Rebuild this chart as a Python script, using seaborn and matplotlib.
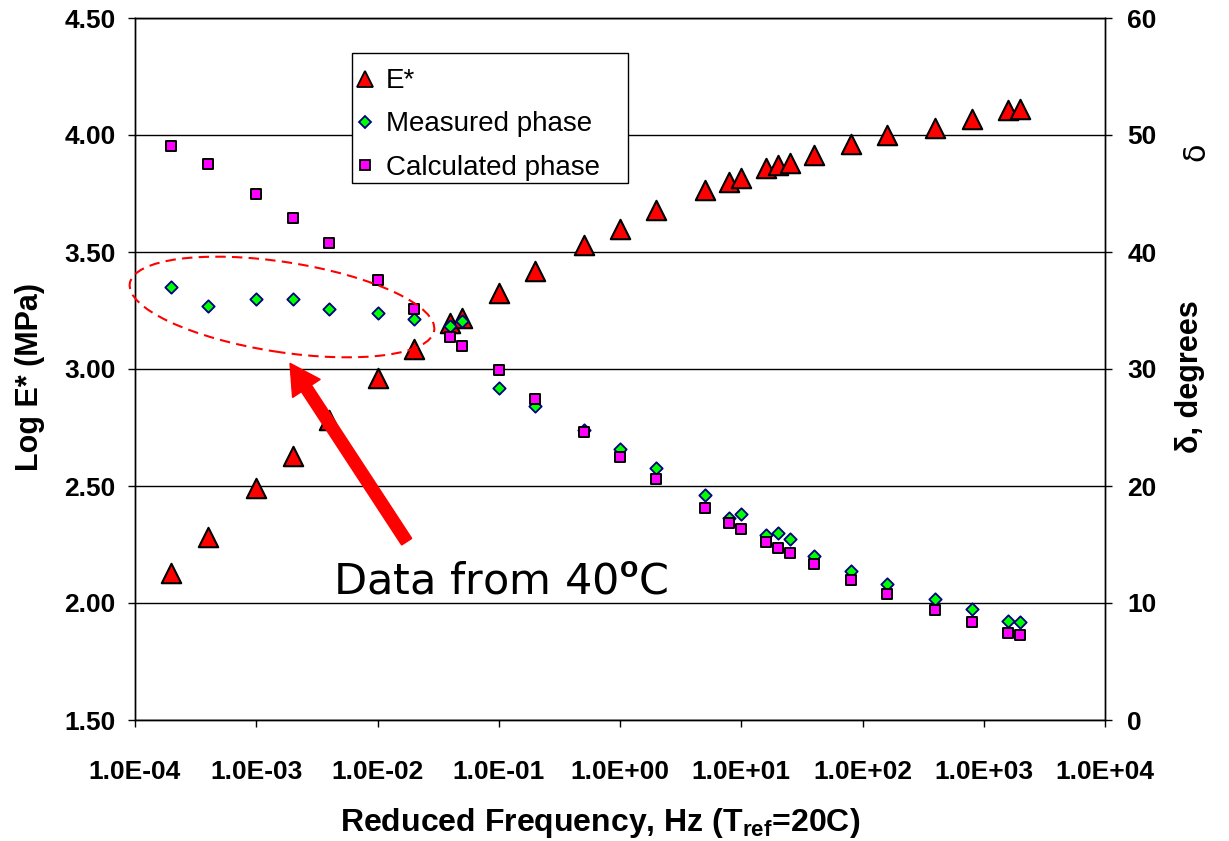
import numpy as np
import pandas as pd
import matplotlib
matplotlib.use("Agg")
import matplotlib.pyplot as plt
import seaborn as sns
from matplotlib.lines import Line2D
from matplotlib.patches import Ellipse, FancyArrow, Rectangle
from matplotlib.ticker import FixedLocator, FuncFormatter, NullLocator

sns.set_style("ticks")
plt.rcParams["font.family"] = ["Liberation Sans", "DejaVu Sans"]
plt.rcParams["font.weight"] = "bold"
plt.rcParams["axes.labelweight"] = "bold"
plt.rcParams["text.color"] = "black"
plt.rcParams["axes.labelcolor"] = "black"
plt.rcParams["xtick.color"] = "black"
plt.rcParams["ytick.color"] = "black"
plt.rcParams["mathtext.fontset"] = "custom"
plt.rcParams["mathtext.rm"] = "Liberation Sans"
plt.rcParams["mathtext.bf"] = "Liberation Sans:bold"

# Reduced frequency (Hz) at Tref = 20C
freq = [2e-4, 4e-4, 1e-3, 2e-3, 4e-3, 1e-2, 2e-2, 4e-2, 5e-2, 0.1, 0.2, 0.5,
        1, 2, 5, 8, 10, 16, 20, 25, 40, 80, 160, 400, 800, 1600, 2000]
# log dynamic modulus, MPa
log_e = [2.13, 2.28, 2.49, 2.63, 2.78, 2.96, 3.085, 3.197, 3.22, 3.325, 3.42, 3.53,
         3.60, 3.68, 3.765, 3.80, 3.816, 3.86, 3.87, 3.88, 3.915, 3.96, 4.00, 4.03,
         4.07, 4.105, 4.11]
# phase angle, degrees
measured_phase = [37.0, 35.4, 36.0, 36.0, 35.1, 34.8, 34.3, 33.7, 34.1, 28.4, 26.8, 24.8,
                  23.2, 21.5, 19.2, 17.3, 17.6, 15.8, 16.0, 15.5, 14.0, 12.7, 11.6, 10.3,
                  9.5, 8.5, 8.4]
calculated_phase = [49.1, 47.5, 45.0, 42.9, 40.8, 37.6, 35.1, 32.7, 32.0, 29.9, 27.4, 24.6,
                    22.5, 20.6, 18.1, 16.8, 16.3, 15.2, 14.7, 14.3, 13.3, 12.0, 10.8, 9.4,
                    8.35, 7.46, 7.26]

x_ticks = [1e-4, 1e-3, 1e-2, 1e-1, 1e0, 1e1, 1e2, 1e3, 1e4]
left_ticks = [1.50, 2.00, 2.50, 3.00, 3.50, 4.00, 4.50]
right_ticks = [0, 10, 20, 30, 40, 50, 60]

df = pd.DataFrame({"freq": freq, "log_e": log_e,
                   "measured": measured_phase, "calculated": calculated_phase})

W, H = 1229, 841
fig = plt.figure(figsize=(W / 100, H / 100), dpi=100)
ax = fig.add_axes([135 / W, 121 / H, 970 / W, 702 / H])
ax2 = ax.twinx()

sns.scatterplot(data=df, x="freq", y="log_e", ax=ax, marker="^", s=14 ** 2,
                color="#FF0000", edgecolor="black", linewidth=1.5, zorder=3, legend=False)
sns.scatterplot(data=df, x="freq", y="measured", ax=ax2, marker="D", s=6.3 ** 2,
                color="#00FF00", edgecolor="#000080", linewidth=1.3, zorder=3, legend=False)
sns.scatterplot(data=df, x="freq", y="calculated", ax=ax2, marker="s", s=7.6 ** 2,
                color="#FF00FF", edgecolor="black", linewidth=1.4, zorder=4, legend=False)

ax.set_xscale("log")
ax.set_xlim(1e-4, 1e4)
ax.xaxis.set_major_locator(FixedLocator(x_ticks))
ax.xaxis.set_minor_locator(NullLocator())
ax.xaxis.set_major_formatter(FuncFormatter(lambda v, p: f"{v:.1E}"))
ax.set_ylim(1.5, 4.5)
ax.yaxis.set_major_locator(FixedLocator(left_ticks))
ax.yaxis.set_major_formatter(FuncFormatter(lambda v, p: f"{v:.2f}"))
ax2.set_ylim(0, 60)
ax2.yaxis.set_major_locator(FixedLocator(right_ticks))
ax2.yaxis.set_major_formatter(FuncFormatter(lambda v, p: f"{v:.0f}"))

ax.yaxis.grid(True, color="black", lw=1.0)
ax.xaxis.grid(False)
for a in (ax, ax2):
    for sp in a.spines.values():
        sp.set_visible(True)
        sp.set_color("black")
        sp.set_linewidth(1.0)

ax.tick_params(axis="x", direction="out", length=5, width=1, labelsize=19, pad=24, colors="black")
ax.tick_params(axis="y", direction="out", length=5, width=1, labelsize=19, pad=9, colors="black")
ax2.tick_params(axis="y", direction="out", length=5, width=1, labelsize=19, pad=11, colors="black")

ax.set_xlabel(r"Reduced Frequency, Hz (T$_{\mathbf{ref}}$=20C)", fontsize=23, color="black")
ax.xaxis.set_label_coords(0.480, -0.1225)
ax.set_ylabel("Log E* (MPa)", fontsize=22, color="black")
ax.yaxis.set_label_coords(-0.093, 0.489)
ax2.set_ylabel("δ, degrees", fontsize=22, color="black")
ax2.yaxis.set_label_coords(1.072, 0.489)

fig.text(1196 / W, (H - 152) / H, "δ", rotation=90, fontsize=22, fontweight="normal",
         family=["DejaVu Sans"], ha="center", va="center", color="black")

# Legend with a white boxed frame
handles = [
    Line2D([], [], ls="none", marker="^", ms=12, mfc="#FF0000", mec="black", mew=1.3, label="E*"),
    Line2D([], [], ls="none", marker="D", ms=6.5, mfc="#00FF00", mec="#000080", mew=1.3, label="Measured phase"),
    Line2D([], [], ls="none", marker="s", ms=7.5, mfc="#FF00FF", mec="black", mew=1.3, label="Calculated phase"),
]
ax2.add_patch(Rectangle((352 / W, (H - 183) / H), 276 / W, 130 / H, transform=fig.transFigure,
                        facecolor="white", edgecolor="black", lw=1.0, zorder=4.5, clip_on=False))
leg = ax2.legend(handles=handles, loc="center left", bbox_to_anchor=(356.6 / W, (H - 124.5) / H),
                 bbox_transform=fig.transFigure, frameon=False,
                 prop={"size": 20, "weight": "normal"}, handlelength=0.6, handletextpad=0.45,
                 borderpad=0, labelspacing=0.62, borderaxespad=0)
for t in leg.get_texts():
    t.set_color("black")

# Dashed ellipse around the 40C phase data, with pointer arrow and note
fig.add_artist(Ellipse((2.82, (H - 307) / 100), 3.08, 0.90, angle=-8.8,
                       transform=fig.dpi_scale_trans, fill=False, edgecolor="#FF0000",
                       lw=1.5, linestyle=(0, (5, 3))))
fig.add_artist(FancyArrow(4.067, (H - 541.7) / 100, -1.167, 1.784, width=0.12,
                          head_width=0.33, head_length=0.30, length_includes_head=True,
                          color="#FF0000", transform=fig.dpi_scale_trans))
fig.text(333 / W, (H - 593) / H, r"Data from 40$^{\mathrm{o}}$C", fontsize=31,
         fontweight="normal", family=["DejaVu Sans"], ha="left", va="baseline", color="black")

fig.savefig("out.png", dpi=100)
